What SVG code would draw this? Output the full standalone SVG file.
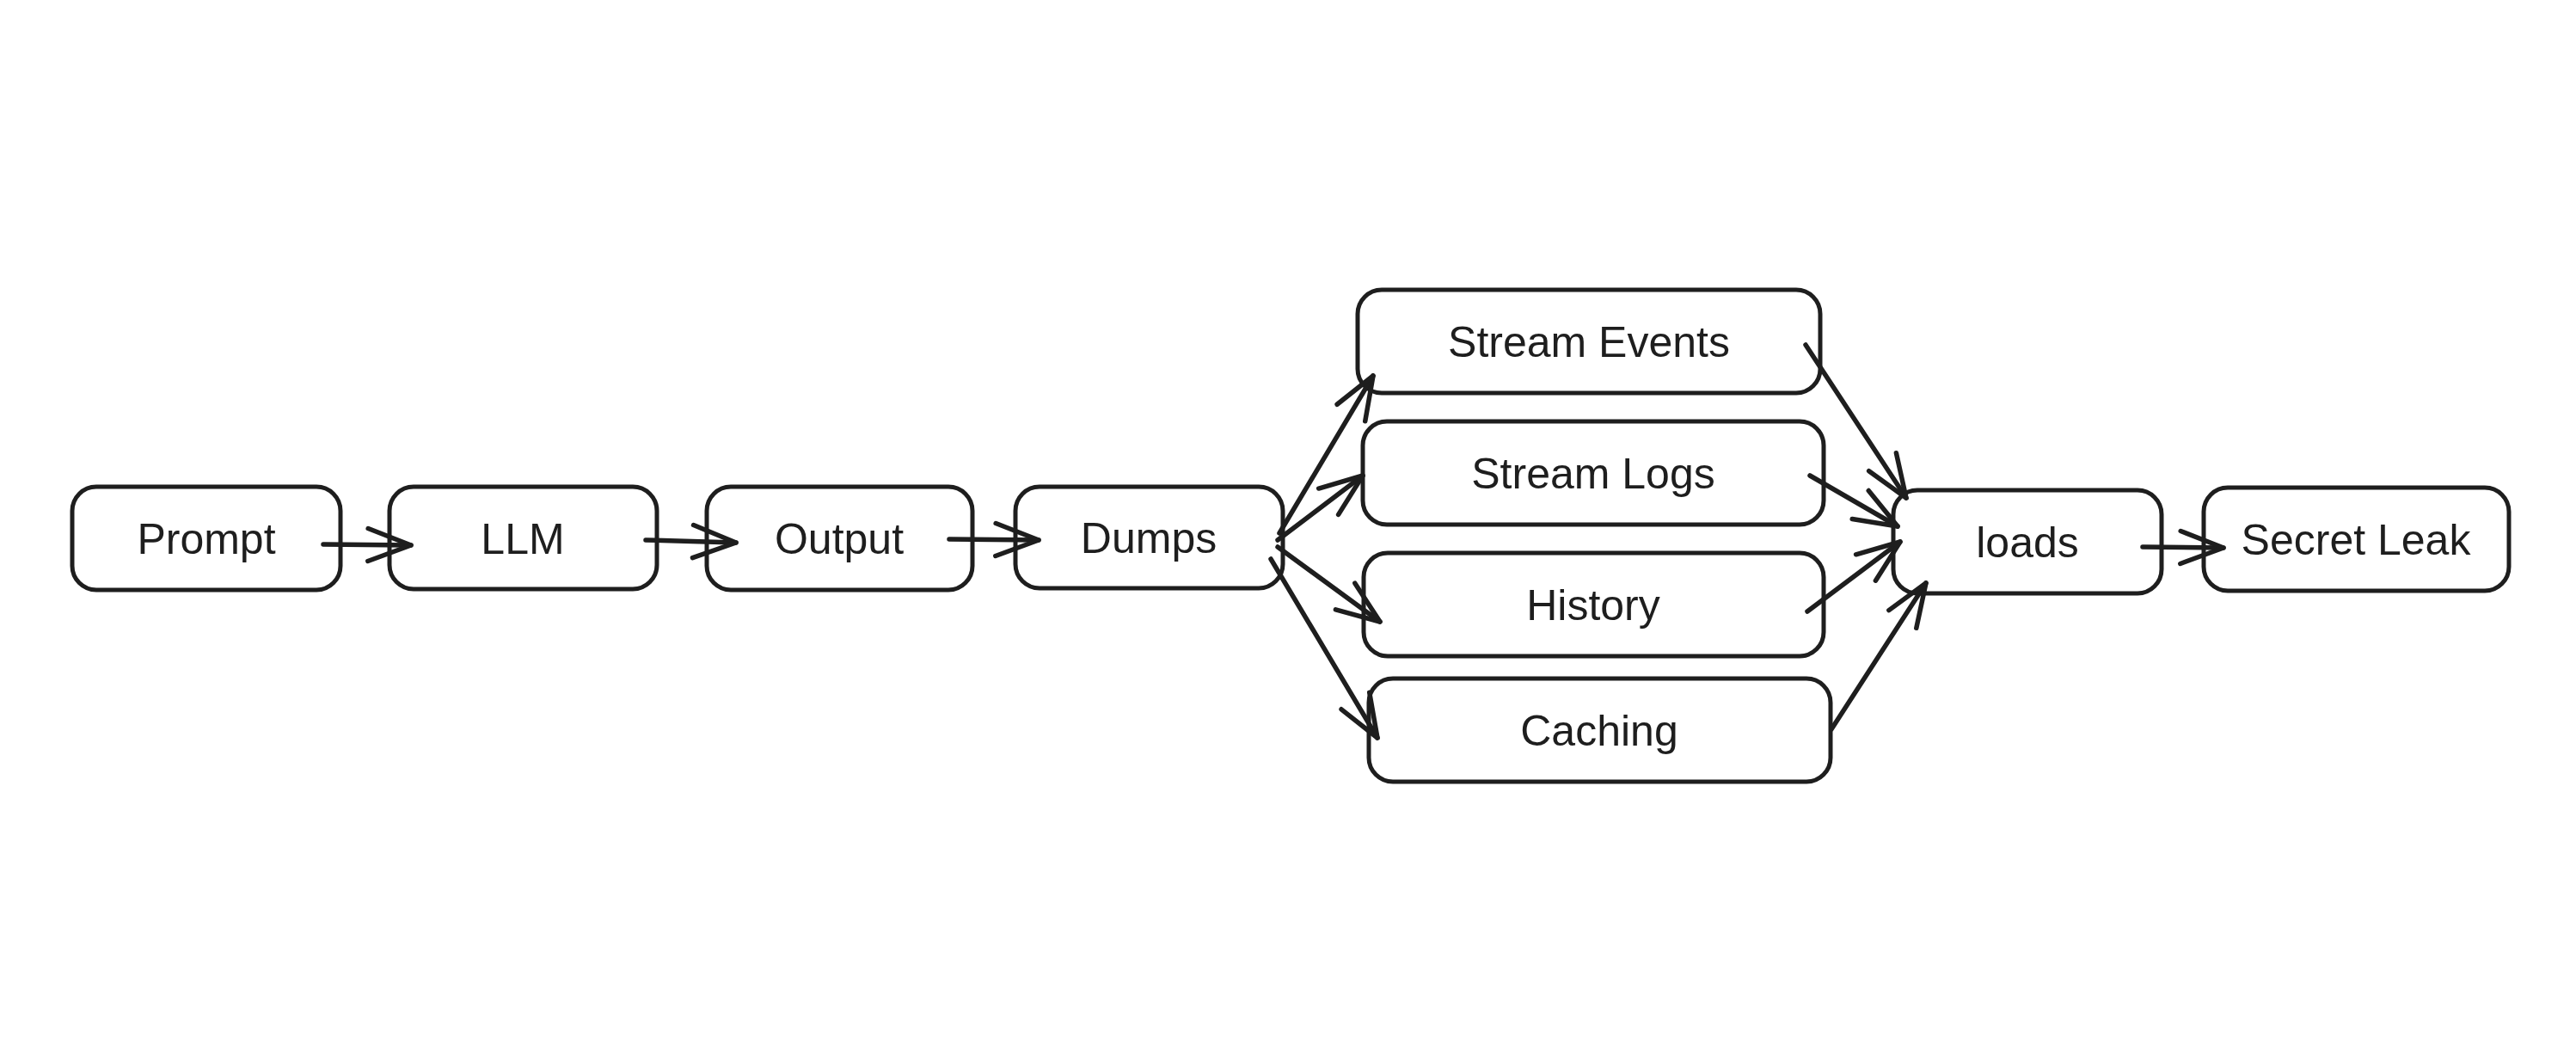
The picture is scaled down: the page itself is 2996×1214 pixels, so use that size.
<svg xmlns="http://www.w3.org/2000/svg" width="2996" height="1214" viewBox="0 0 2996 1214">
  <defs>
    <style>
      .box { fill: none; stroke: #1e1e1e; stroke-width: 5; }
      .lbl { font-family: "Liberation Sans", "DejaVu Sans", sans-serif; font-size: 50px; fill: #1e1e1e; text-anchor: middle; }
      .edge { fill: none; stroke: #1e1e1e; stroke-width: 5.5; stroke-linecap: round; }
    </style>
    <marker id="arrow" viewBox="-60 -30 70 60" refX="0" refY="0" markerWidth="70" markerHeight="60" markerUnits="userSpaceOnUse" orient="auto">
      <path d="M -50 -19 L 0 0 L -50 19" fill="none" stroke="#1e1e1e" stroke-width="5.5" stroke-linecap="round" stroke-linejoin="round"/>
    </marker>
  </defs>
  <rect width="2996" height="1214" fill="#ffffff"/>

  <g id="node-prompt">
    <rect class="box" x="84" y="566" width="312" height="120" rx="28"/>
    <text class="lbl" x="240" y="644">Prompt</text>
  </g>
  <g id="node-llm">
    <rect class="box" x="453" y="566" width="311" height="119" rx="28"/>
    <text class="lbl" x="608" y="644">LLM</text>
  </g>
  <g id="node-output">
    <rect class="box" x="822" y="566" width="309" height="120" rx="28"/>
    <text class="lbl" x="976" y="644">Output</text>
  </g>
  <g id="node-dumps">
    <rect class="box" x="1181" y="566" width="311" height="118" rx="28"/>
    <text class="lbl" x="1336" y="643">Dumps</text>
  </g>
  <g id="node-stream-events">
    <rect class="box" x="1579" y="337" width="538" height="120" rx="28"/>
    <text class="lbl" x="1848" y="415">Stream Events</text>
  </g>
  <g id="node-stream-logs">
    <rect class="box" x="1585" y="490" width="536" height="120" rx="28"/>
    <text class="lbl" x="1853" y="568">Stream Logs</text>
  </g>
  <g id="node-history">
    <rect class="box" x="1586" y="643" width="535" height="120" rx="28"/>
    <text class="lbl" x="1853" y="721">History</text>
  </g>
  <g id="node-caching">
    <rect class="box" x="1592" y="789" width="537" height="120" rx="28"/>
    <text class="lbl" x="1860" y="867">Caching</text>
  </g>
  <g id="node-loads">
    <rect class="box" x="2202" y="570" width="312" height="120" rx="28"/>
    <text class="lbl" x="2358" y="648">loads</text>
  </g>
  <g id="node-secret-leak">
    <rect class="box" x="2563" y="567" width="355" height="120" rx="28"/>
    <text class="lbl" x="2740" y="645">Secret Leak</text>
  </g>

  <g id="connectors">
    <path class="edge" d="M376 633 L478 634" marker-end="url(#arrow)"/>
    <path class="edge" d="M751 628 L856 631" marker-end="url(#arrow)"/>
    <path class="edge" d="M1104 627 L1208 628" marker-end="url(#arrow)"/>
    <path class="edge" d="M1488 620 L1597 437" marker-end="url(#arrow)"/>
    <path class="edge" d="M1486 628 L1585 553" marker-end="url(#arrow)"/>
    <path class="edge" d="M1486 636 L1605 723" marker-end="url(#arrow)"/>
    <path class="edge" d="M1478 650 L1602 858" marker-end="url(#arrow)"/>
    <path class="edge" d="M2100 401 L2217 579" marker-end="url(#arrow)"/>
    <path class="edge" d="M2105 553 L2207 612" marker-end="url(#arrow)"/>
    <path class="edge" d="M2102 711 L2210 630" marker-end="url(#arrow)"/>
    <path class="edge" d="M2130 848 L2240 678" marker-end="url(#arrow)"/>
    <path class="edge" d="M2492 636 L2586 637" marker-end="url(#arrow)"/>
  </g>
</svg>
